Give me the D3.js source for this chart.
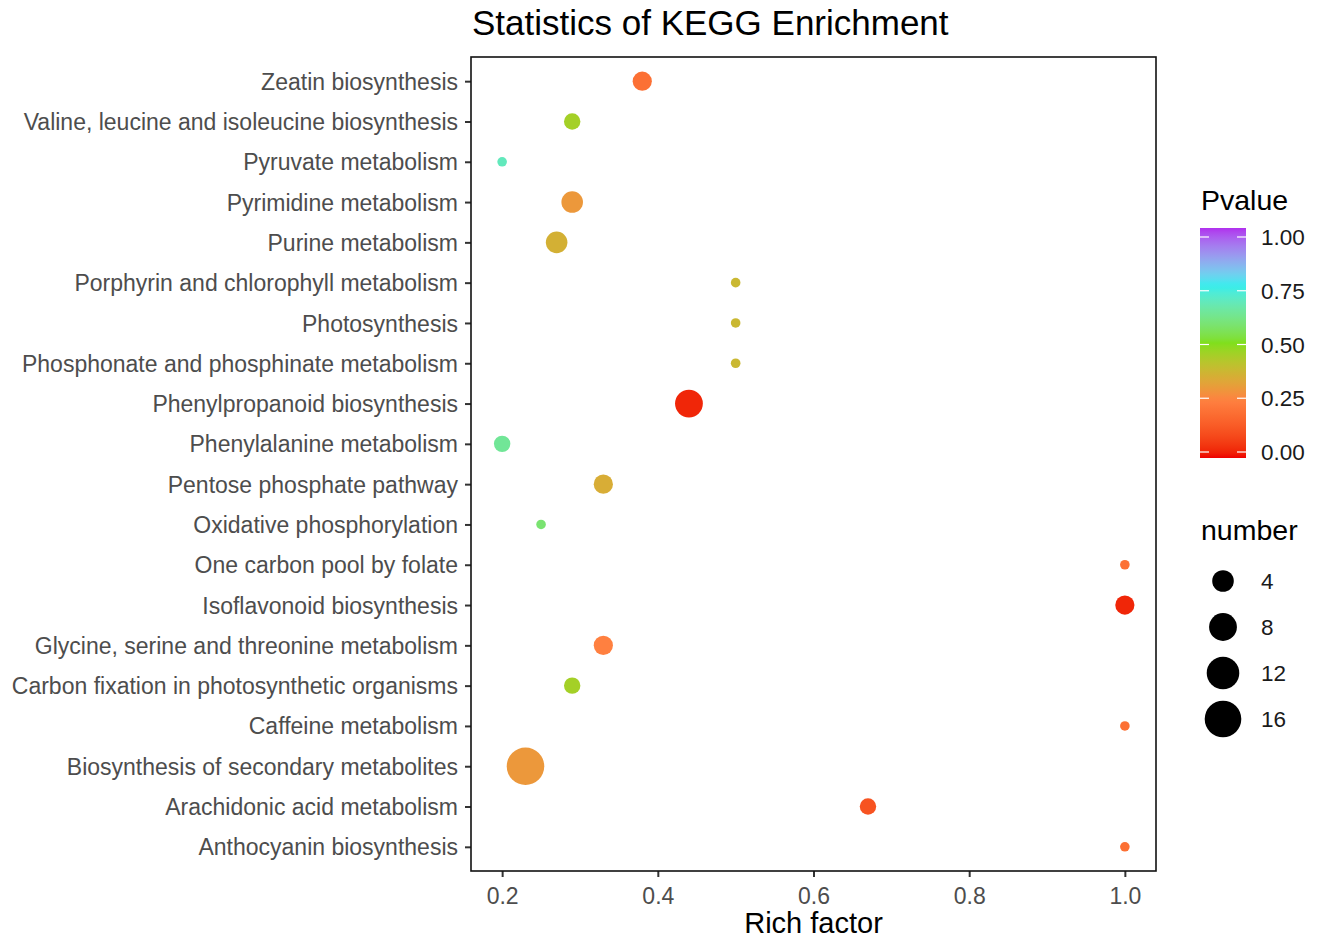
<!DOCTYPE html>
<html>
<head>
<meta charset="utf-8">
<script src="https://cdn.jsdelivr.net/npm/d3@7"></script>
<style>
  body { margin: 0; background: #fff; }
  text { font-family: "Liberation Sans", Arial, sans-serif; }
</style>
</head>
<body>
<div id="chart"></div>
<script>
const w = 1323;
const h = 938;
var margin = {top: 57, right: 167, bottom: 67, left: 471};

// pathways, top to bottom
const pathways = [
    "Zeatin biosynthesis",
    "Valine, leucine and isoleucine biosynthesis",
    "Pyruvate metabolism",
    "Pyrimidine metabolism",
    "Purine metabolism",
    "Porphyrin and chlorophyll metabolism",
    "Photosynthesis",
    "Phosphonate and phosphinate metabolism",
    "Phenylpropanoid biosynthesis",
    "Phenylalanine metabolism",
    "Pentose phosphate pathway",
    "Oxidative phosphorylation",
    "One carbon pool by folate",
    "Isoflavonoid biosynthesis",
    "Glycine, serine and threonine metabolism",
    "Carbon fixation in photosynthetic organisms",
    "Caffeine metabolism",
    "Biosynthesis of secondary metabolites",
    "Arachidonic acid metabolism",
    "Anthocyanin biosynthesis"
];
const richFactor = [0.38, 0.29, 0.2, 0.29, 0.27, 0.5, 0.5, 0.5, 0.44, 0.2,
                    0.33, 0.25, 1.0, 1.0, 0.33, 0.29, 1.0, 0.23, 0.67, 1.0];
const pvalue = [0.2, 0.45, 0.68, 0.3, 0.36, 0.38, 0.38, 0.38, 0.03, 0.63,
                0.35, 0.58, 0.2, 0.03, 0.25, 0.45, 0.2, 0.3, 0.12, 0.2];
const number = [3, 2, 1, 4, 4, 1, 1, 1, 8, 2,
                3, 1, 1, 3, 3, 2, 1, 17, 2, 1];

const xTicks = [0.2, 0.4, 0.6, 0.8, 1.0];
const pTicks = [0, 0.25, 0.5, 0.75, 1.0];
const pColors = ["#ee0000", "#ff8040", "#80df1c", "#30eeee", "#b030ee"];
const sizeBreaks = [4, 8, 12, 16];

const iw = w - margin.left - margin.right;
const ih = h - margin.top - margin.bottom;

const svg = d3.select("#chart")
    .append("svg")
        .attr("width", w)
        .attr("height", h);

const g = svg.append("g")
    .attr("transform", "translate(" + margin.left + "," + margin.top + ")");

const x = d3.scaleLinear()
    .domain([0.16, 1.04])
    .range([0, iw]);

const y = d3.scalePoint()
    .domain(pathways)
    .range([0, ih])
    .padding(0.6);

const color = d3.scaleLinear()
    .domain(pTicks)
    .range(pColors)
    .interpolate(d3.interpolateLab);

const size = d3.scaleSqrt()
    .domain([1, 2, 4, 16])
    .range([4.8, 8.2, 10.8, 18.3]);

// axes
const xAxis = g.append("g")
    .attr("transform", "translate(0," + ih + ")")
    .call(d3.axisBottom(x).tickValues(xTicks).tickFormat(d3.format(".1f")).tickSize(6).tickPadding(5));
const yAxis = g.append("g")
    .call(d3.axisLeft(y).tickSize(6).tickPadding(7));

[xAxis, yAxis].forEach(a => {
    a.select(".domain").remove();
    a.selectAll("line").attr("stroke", "#333").attr("stroke-width", 2);
    a.selectAll("text")
        .attr("fill", "#4d4d4d")
        .style("font-size", "23px")
        .style("font-family", "'Liberation Sans', Arial, sans-serif");
});
xAxis.selectAll("text").attr("dy", "0.95em");
yAxis.selectAll("text").attr("dy", "0.35em");

const data = pathways.map((p, i) => ({name: p, rf: richFactor[i], p: pvalue[i], n: number[i]}));

g.selectAll("circle.pt")
    .data(data)
    .enter()
    .append("circle")
        .attr("class", "pt")
        .attr("cx", d => x(d.rf))
        .attr("cy", d => y(d.name))
        .attr("r", d => size(d.n))
        .attr("fill", d => color(d.p));

// panel border
g.append("rect")
    .attr("width", iw)
    .attr("height", ih)
    .attr("fill", "none")
    .attr("stroke", "#111")
    .attr("stroke-width", 1.6);

// title and axis title
svg.append("text")
    .attr("x", margin.left + 1)
    .attr("y", 35)
    .style("font-size", "35px")
    .attr("fill", "#000")
    .text("Statistics of KEGG Enrichment");

svg.append("text")
    .attr("x", margin.left + iw / 2)
    .attr("y", 933)
    .attr("text-anchor", "middle")
    .style("font-size", "29px")
    .attr("fill", "#000")
    .text("Rich factor");

// colour legend
const leg = svg.append("g").attr("transform", "translate(1200,0)");
leg.append("text")
    .attr("x", 1).attr("y", 210)
    .style("font-size", "28.5px")
    .text("Pvalue");

const defs = svg.append("defs");
const grad = defs.append("linearGradient")
    .attr("id", "pgrad")
    .attr("x1", 0).attr("y1", 1).attr("x2", 0).attr("y2", 0);
d3.range(0, 1.0001, 0.02).forEach(t => {
    grad.append("stop").attr("offset", t).attr("stop-color", color(t));
});

const pScale = d3.scaleLinear().domain([0, 1]).range([452, 237]);
const barTop = pScale(1) - 9, barBot = pScale(0) + 6;
leg.append("rect")
    .attr("x", 0).attr("y", barTop)
    .attr("width", 46).attr("height", barBot - barTop)
    .attr("fill", "url(#pgrad)");
pTicks.forEach(t => {
    leg.append("line").attr("x1", 0).attr("x2", 9).attr("y1", pScale(t)).attr("y2", pScale(t))
        .attr("stroke", "#fff").attr("stroke-width", 1.2);
    leg.append("line").attr("x1", 37).attr("x2", 46).attr("y1", pScale(t)).attr("y2", pScale(t))
        .attr("stroke", "#fff").attr("stroke-width", 1.2);
    leg.append("text")
        .attr("x", 61).attr("y", pScale(t)).attr("dy", "0.36em")
        .style("font-size", "22.5px")
        .attr("fill", "#1a1a1a")
        .text(d3.format(".2f")(t));
});

// size legend
leg.append("text")
    .attr("x", 1).attr("y", 540)
    .style("font-size", "28.5px")
    .text("number");

const sy = d3.scalePoint().domain(sizeBreaks).range([581, 719]);
sizeBreaks.forEach(b => {
    leg.append("circle")
        .attr("cx", 23).attr("cy", sy(b))
        .attr("r", size(b))
        .attr("fill", "#000");
    leg.append("text")
        .attr("x", 61).attr("y", sy(b)).attr("dy", "0.36em")
        .style("font-size", "22.5px")
        .attr("fill", "#1a1a1a")
        .text(b);
});
</script>
</body>
</html>
